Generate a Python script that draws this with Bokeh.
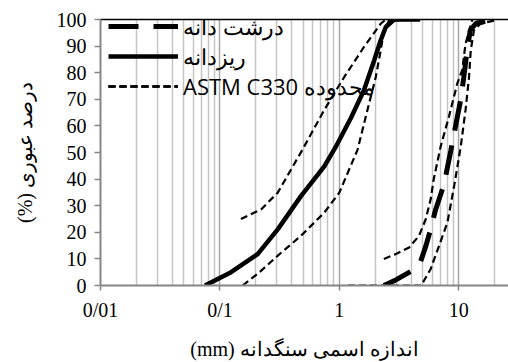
from bokeh.plotting import figure
from bokeh.models import (FixedTicker, LogAxis, Legend, LegendItem,
                          CustomJSTickFormatter)
from bokeh.embed import file_html
from bokeh.resources import INLINE

# ---- data ----
fine_size = [0.075, 0.124, 0.207, 0.306, 0.477, 0.748, 0.93, 1.25, 1.61, 1.96, 2.22, 2.45, 2.88, 4.75]
fine_pass = [0, 5, 11.8, 21.2, 33.6, 44.8, 52, 63, 73.5, 84.7, 92.2, 97.2, 100, 100]

coarse_size = [2.36, 3.0, 4.1, 4.75, 5.3, 5.82, 6.4, 7.53, 8.56, 9.5, 10.4, 11.0, 11.8, 12.5, 14, 19.5]
coarse_pass = [0, 2.2, 5.7, 8.5, 14.8, 21.2, 28.5, 38, 50.5, 61, 70, 78, 89, 96, 98.6, 100]

fine_upper_size = [0.15, 0.221, 0.305, 0.394, 0.49, 0.748, 1.1, 1.61, 2.22, 2.45, 4.75]
fine_upper_pass = [25, 28.6, 34.9, 43.6, 51, 66, 78.4, 89.7, 98.4, 100, 100]

fine_lower_size = [0.155, 0.207, 0.305, 0.478, 0.748, 1.0, 1.42, 1.72, 2.02, 2.22, 2.37, 2.61, 4.75]
fine_lower_pass = [0, 4.4, 11.2, 18.7, 27.4, 34.9, 51, 66, 78.4, 88.4, 95.9, 99.6, 100]

coarse_upper_size = [2.36, 2.97, 3.84, 4.65, 5.29, 5.82, 6.17, 7.06, 8.28, 9.73, 10.7, 11.4, 13.0]
coarse_upper_pass = [10, 11.8, 14.3, 18.7, 24.9, 32.4, 39.9, 52.3, 63.5, 76, 81, 90.9, 100]

coarse_lower_size = [1.18, 2.36, 4.85, 5.82, 6.84, 8.04, 9.2, 10.4, 11.4, 12.2, 12.6, 13.4, 15.2, 19.7]
coarse_lower_pass = [0, 0, 0, 6.2, 14.9, 23.7, 38, 52.3, 66, 78.4, 88.4, 95.9, 98.4, 99.6]

x_major_ticks = [0.01, 0.1, 1, 10]
y_ticks = [0, 10, 20, 30, 40, 50, 60, 70, 80, 90, 100]

label_coarse = "درشت دانه"
label_fine = "ریزدانه"
label_astm = "ASTM C330 محدوده"
x_title = "(mm) اندازه اسمی سنگدانه"
y_title = "(%) درصد عبوری"

# ---- figure ----
p = figure(width=508, height=362, x_axis_type="log",
           x_range=(0.01, 26.1), y_range=(0, 100),
           output_backend="svg", toolbar_location=None,
           min_border_left=100, min_border_right=0,
           min_border_top=19, min_border_bottom=75)
p.outline_line_color = None
p.background_fill_color = "white"
p.border_fill_color = "white"

minor = [k * d for d in x_major_ticks for k in range(2, 10) if k * d < 26]
p.xaxis.ticker = FixedTicker(ticks=x_major_ticks, minor_ticks=minor)
p.xaxis.formatter = CustomJSTickFormatter(code="return tick.toString().replace('.', '/')")
p.yaxis.ticker = FixedTicker(ticks=y_ticks)

serif = "Times New Roman"
for ax in (p.xaxis, p.yaxis):
    ax.axis_line_color = "#868686"
    ax.axis_line_width = 2
    ax.major_tick_line_color = "#868686"
    ax.major_tick_line_width = 1.5
    ax.major_tick_in = 0
    ax.minor_tick_line_color = None
    ax.major_label_text_font = serif
    ax.major_label_text_font_size = "20px"
    ax.major_label_text_color = "black"
    ax.axis_label_text_font = serif
    ax.axis_label_text_font_size = "20px"
    ax.axis_label_text_font_style = "normal"
    ax.axis_label_text_color = "black"

p.xaxis.major_tick_out = 5
p.yaxis.major_tick_out = 6
p.xaxis.major_label_standoff = 8
p.yaxis.major_label_standoff = 8
p.xaxis.axis_label = x_title
p.yaxis.axis_label = y_title
p.xaxis.axis_label_standoff = 14
p.yaxis.axis_label_standoff = 18

p.ygrid.grid_line_color = None
p.xgrid.grid_line_color = "#a6a6a6"
p.xgrid.grid_line_width = 1.5
p.xgrid.minor_grid_line_color = "#c4c4c4"
p.xgrid.minor_grid_line_width = 1.5

top = LogAxis(ticker=FixedTicker(ticks=[]), axis_line_color="black",
              axis_line_width=1.5, major_tick_line_color=None,
              minor_tick_line_color=None, major_label_text_font_size="0px")
p.add_layout(top, "above")

# ---- curves ----
r_coarse = p.line(coarse_size, coarse_pass, line_color="black", line_width=5,
                  line_dash="30 15")
r_fine = p.line(fine_size, fine_pass, line_color="black", line_width=4.5)
astm = []
for xs, ys in ((fine_upper_size, fine_upper_pass), (fine_lower_size, fine_lower_pass),
               (coarse_upper_size, coarse_upper_pass), (coarse_lower_size, coarse_lower_pass)):
    astm.append(p.line(xs, ys, line_color="black", line_width=2.2, line_dash="7 4"))

legend = Legend(items=[LegendItem(label=label_coarse, renderers=[r_coarse]),
                       LegendItem(label=label_fine, renderers=[r_fine]),
                       LegendItem(label=label_astm, renderers=astm)],
                location=(8, 184), padding=0, margin=0, spacing=-4,
                glyph_width=70, glyph_height=20, label_height=20,
                label_standoff=5, border_line_color=None,
                background_fill_alpha=0,
                label_text_font="Open Sans", label_text_font_size="22px",
                label_text_color="black")
p.add_layout(legend)

open("out.html", "w").write(file_html(p, INLINE))
